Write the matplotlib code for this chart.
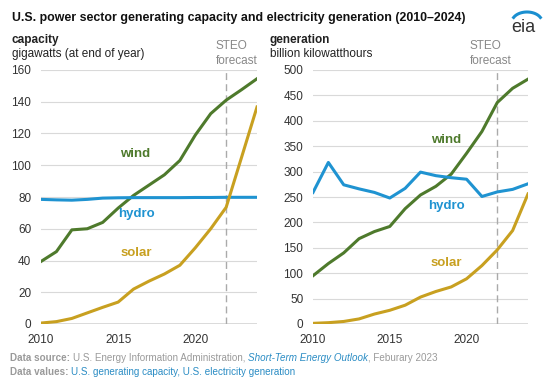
import matplotlib
matplotlib.use("Agg")
import matplotlib.pyplot as plt
import numpy as np

plt.rcParams['font.family'] = ['Liberation Sans', 'DejaVu Sans']

years = list(range(2010, 2025))

# capacity, gigawatts
cap_wind = [39.4, 45.6, 59.3, 60.0, 64.0, 73.0, 81.0, 87.5, 94.0, 103.0, 119.0, 132.5, 141.0, 147.6, 154.5]
cap_hydro = [78.5, 78.2, 78.0, 78.5, 79.3, 79.5, 79.6, 79.6, 79.6, 79.6, 79.7, 79.7, 79.8, 79.8, 79.8]
cap_solar = [0.6, 1.5, 3.5, 7.0, 10.5, 13.8, 22.0, 27.0, 31.5, 37.0, 48.0, 60.0, 73.5, 105.0, 136.7]

# generation, billion kWh
gen_wind = [95, 119, 140, 168, 182, 192, 227, 254, 271, 295, 336, 379, 436, 464, 482]
gen_hydro = [259, 318, 274, 266, 259, 248, 267, 299, 292, 288, 285, 251, 260, 265, 276]
gen_solar = [1.3, 2.6, 5, 10, 19.6, 27, 37, 53, 64, 73, 89, 115, 146, 184, 256]

c_wind = '#4e7a2c'
c_hydro = '#1f93d1'
c_solar = '#c8a020'
c_tick = '#333333'
c_grid = '#d9d9d9'

fig = plt.figure(figsize=(5.52, 3.91), dpi=100)

ax1 = fig.add_axes([41/552, 67/391, 216/552, 254/391])
ax2 = fig.add_axes([313/552, 67/391, 215/552, 254/391])


def style(ax, ymax, step):
    ax.set_xlim(2010, 2024)
    ax.set_ylim(0, ymax)
    ax.set_yticks(np.arange(0, ymax + 1, step))
    ax.set_xticks([2010, 2015, 2020])
    for s in ax.spines.values():
        s.set_visible(False)
    ax.grid(axis='y', color=c_grid, lw=0.8)
    ax.set_axisbelow(True)
    ax.axhline(0, color='#555555', lw=1.0)
    ax.tick_params(length=0, labelsize=8.5, colors=c_tick)
    ax.tick_params(axis='x', pad=7)
    ax.tick_params(axis='y', pad=7)
    ax.axvline(2022, color='#aaaaaa', lw=1.0, ls=(0, (5, 3)))


style(ax1, 160, 20)
style(ax2, 500, 50)

lw = 2.2
ax1.plot(years, cap_wind, color=c_wind, lw=lw)
ax1.plot(years, cap_hydro, color=c_hydro, lw=lw)
ax1.plot(years, cap_solar, color=c_solar, lw=lw)
ax2.plot(years, gen_wind, color=c_wind, lw=lw)
ax2.plot(years, gen_hydro, color=c_hydro, lw=lw)
ax2.plot(years, gen_solar, color=c_solar, lw=lw)

lab = dict(fontsize=9.5, fontweight='bold', ha='center', va='center')
ax1.text(2016.1, 107, 'wind', color=c_wind, **lab)
ax1.text(2016.2, 69, 'hydro', color=c_hydro, **lab)
ax1.text(2016.2, 45, 'solar', color=c_solar, **lab)
ax2.text(2018.7, 362, 'wind', color=c_wind, **lab)
ax2.text(2018.7, 232, 'hydro', color=c_hydro, **lab)
ax2.text(2018.7, 120, 'solar', color=c_solar, **lab)

# titles
fig.text(12/552, 1 - 18/391, 'U.S. power sector generating capacity and electricity generation (2010\u20132024)',
         fontsize=8.95, fontweight='bold', color='#111111', va='center')
fig.text(12/552, 1 - 40/391, 'capacity', fontsize=8.5, fontweight='bold', color='#222222', va='center')
fig.text(12/552, 1 - 54/391, 'gigawatts (at end of year)', fontsize=8.5, color='#222222', va='center')
fig.text(270/552, 1 - 40/391, 'generation', fontsize=8.5, fontweight='bold', color='#222222', va='center')
fig.text(270/552, 1 - 54/391, 'billion kilowatthours', fontsize=8.5, color='#222222', va='center')

for x in (216, 470):
    fig.text(x/552, 1 - 46/391, 'STEO', fontsize=8.5, color='#888888', va='center')
    fig.text(x/552, 1 - 61/391, 'forecast', fontsize=8.5, color='#888888', va='center')

# eia logo
fig.text(523/552, 1 - 27/391, 'eia', fontsize=13, color='#333333', ha='center', va='center')
t = np.linspace(0.15, 0.85, 40) * np.pi
fig.add_artist(plt.Line2D((527 - 15 * np.cos(t)) / 552, 1 - (22 - 10 * np.sin(t)) / 391,
                          color='#1a8fd0', lw=2.2, transform=fig.transFigure))

# footer: pieces placed one after another
fs = 7.1
gray = '#9a9a9a'
link = '#2a8cc4'
renderer = fig.canvas.get_renderer()


def run(y, pieces):
    x = 10
    for txt, kw in pieces:
        t = fig.text(x/552, 1 - y/391, txt, fontsize=fs, va='center', **kw)
        x += t.get_window_extent(renderer).width


run(358, [('Data source: ', dict(fontweight='bold', color=gray)),
          ('U.S. Energy Information Administration, ', dict(color=gray)),
          ('Short-Term Energy Outlook', dict(style='italic', color=link)),
          (', Feburary 2023', dict(color=gray))])
run(372, [('Data values: ', dict(fontweight='bold', color=gray)),
          ('U.S. generating capacity, U.S. electricity generation', dict(color=link))])

fig.savefig('out.png', dpi=100)
